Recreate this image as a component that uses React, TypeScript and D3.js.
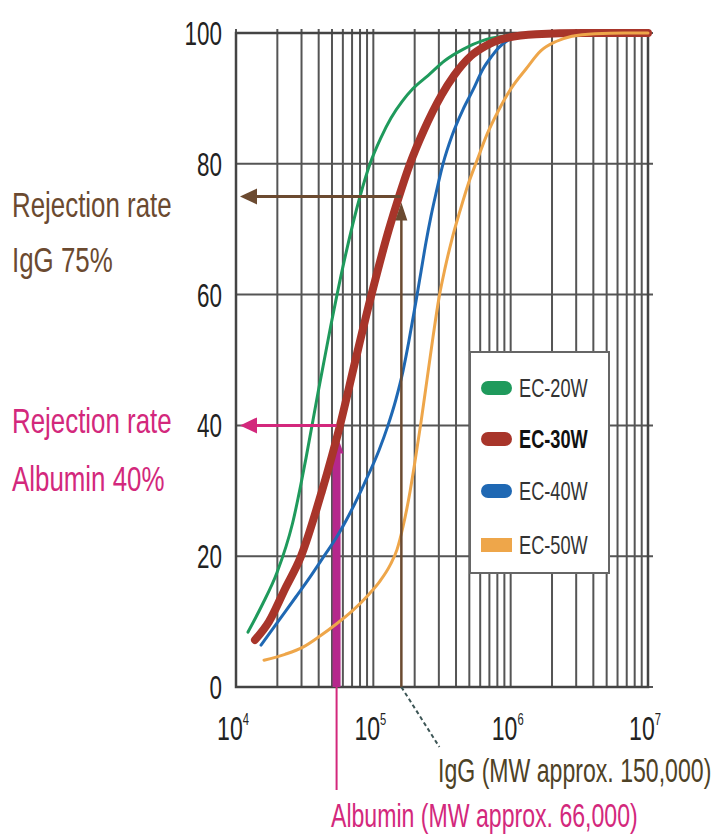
import React from "react";
import * as d3 from "d3";

// ---- data (molecular weight, rejection rate %) ----
const seriesNames = ["EC-20W", "EC-30W", "EC-40W", "EC-50W"];

const ec20W: [number, number][] = [
  [12230, 8.4], [15460, 12.5], [19890, 17.5], [25790, 25], [32340, 35], [39550, 45],
  [48760, 55], [61150, 65], [79970, 75], [94570, 80], [113700, 84], [134500, 87],
  [161700, 89.5], [194500, 91.5], [250100, 93.5], [332500, 95.8], [449600, 97.5],
  [618400, 98.8], [879400, 99.5], [1383000, 99.8], [2941000, 100], [10000000, 100],
];
const ec30W: [number, number][] = [
  [13750, 7.2], [17390, 10], [22740, 15], [29740, 20], [42290, 30], [57180, 40],
  [74160, 50], [96970, 60], [130000, 70], [153800, 75], [184900, 80], [231900, 85],
  [313600, 90.5], [386700, 93.5], [514200, 96.5], [655800, 98], [836300, 99],
  [1529000, 99.8], [3362000, 100], [10000000, 100],
];
const ec40W: [number, number][] = [
  [15210, 6.4], [20220, 10], [27350, 13.8], [34580, 16.8], [43730, 20], [54380, 23],
  [66510, 26.3], [85520, 31], [110000, 36.2], [127900, 40], [146200, 44], [164400, 48.3],
  [181900, 53], [204500, 59], [222400, 63.5], [241800, 68], [263000, 72], [286000, 75.5],
  [321600, 80], [373900, 84.3], [449600, 88.3], [531800, 91.3], [628800, 94.5],
  [731300, 96.5], [822300, 97.8], [956300, 98.9], [1094000, 99.5], [1635000, 99.9],
  [3198000, 100], [10000000, 100],
];
const ec50W: [number, number][] = [
  [15990, 4.1], [22740, 5], [30750, 6.1], [40890, 7.8], [53480, 9.6], [69930, 11.6],
  [92990, 14.2], [111800, 16.2], [132200, 18.6], [148700, 21], [164400, 24.5],
  [181900, 29], [201100, 34.5], [222400, 40.5], [245900, 47], [271900, 53.5],
  [300700, 59.5], [332500, 64], [373900, 68.5], [427600, 72.8], [489100, 76.8],
  [568500, 80.5], [672400, 84.5], [808700, 88], [1006000, 91.5], [1293000, 94.5],
  [1663000, 97.3], [2139000, 98.7], [2797000, 99.5], [4113000, 99.9], [6799000, 100],
  [10000000, 100],
];
const seriesData = [ec20W, ec30W, ec40W, ec50W];

const yTicks = [0, 20, 40, 60, 80, 100];
const xTickExponents = [4, 5, 6, 7];

const iggMW = 160000;
const iggRejection = 75;
const albuminMW = 54000;
const albuminRejection = 40;

// ---- styles ----
const seriesColors = ["#1f9a5c", "#a8352a", "#1f68b3", "#eea64a"];
const seriesWidths = [3, 8, 3, 3];
const drawOrder = [0, 2, 1, 3];
const GRID = "#555";
const BROWN = "#6b4a30";
const MAGENTA = "#d3287c";
const MAGENTA_BAR = "#b5288c";
const FONT = "'Liberation Sans', Arial, Helvetica, sans-serif";

const PL = 236, PR = 648, PT = 33, PB = 687;

function CText(props: {
  x: number; y: number; size: number; sx?: number; fill?: string;
  anchor?: "start" | "middle" | "end"; weight?: string; children: React.ReactNode;
}) {
  const { x, y, size, sx = 0.78, fill = "#222", anchor = "start", weight = "normal", children } = props;
  return (
    <text
      transform={`translate(${x},${y}) scale(${sx},1)`}
      fontSize={size}
      fill={fill}
      textAnchor={anchor}
      fontWeight={weight}
      fontFamily={FONT}
    >
      {children}
    </text>
  );
}

export default function App() {
  const x = d3.scaleLog().domain([1e4, 1e7]).range([PL, PR]);
  const y = d3.scaleLinear().domain([0, 100]).range([PB, PT]);
  const line = d3
    .line<[number, number]>()
    .x((d) => x(d[0]))
    .y((d) => y(d[1]))
    .curve(d3.curveMonotoneX);

  const xGrid = x.ticks();

  const igX = x(iggMW);
  const igY = y(iggRejection);
  const alX = x(albuminMW);
  const alY = y(albuminRejection);

  const arrowLeft = (yy: number, color: string) => (
    <path d={`M${PL + 4},${yy} L${PL + 21},${yy - 8} L${PL + 21},${yy + 8} Z`} fill={color} />
  );

  const legendRows = [388, 439, 491, 545];

  return (
    <svg
      width={716}
      height={835}
      style={{ position: "absolute", left: 0, top: 0, background: "#fff" }}
    >
      <rect x={0} y={0} width={716} height={835} fill="#fff" />
      {/* grid */}
      {xGrid.map((t, i) => (
        <line key={"vx" + i} x1={x(t)} x2={x(t)} y1={PT - 4} y2={PB} stroke={GRID} strokeWidth={2} />
      ))}
      {yTicks.map((t) => (
        <line key={"hy" + t} x1={PL} x2={PR + 5} y1={y(t)} y2={y(t)} stroke={GRID} strokeWidth={2} />
      ))}
      <rect x={PL} y={PT} width={PR - PL} height={PB - PT} fill="none" stroke="#444" strokeWidth={2.5} />

      {/* y tick labels */}
      {yTicks.map((t) => (
        <CText key={"yl" + t} x={222} y={y(t) + 12} size={33} sx={0.68} anchor="end">
          {String(t)}
        </CText>
      ))}
      {/* x tick labels */}
      {xTickExponents.map((e) => (
        <CText key={"xl" + e} x={x(Math.pow(10, e)) - 3} y={740} size={33} sx={0.7} anchor="middle">
          10
          <tspan fontSize={16} dy={-15}>{String(e)}</tspan>
        </CText>
      ))}

      {/* albumin marker (behind curves) */}
      <line x1={alX} x2={alX} y1={alY + 22} y2={PB} stroke={MAGENTA_BAR} strokeWidth={8} />
      <path d={`M${alX},${alY + 8} L${alX - 7},${alY + 28} L${alX + 7},${alY + 28} Z`} fill={MAGENTA_BAR} />
      <line x1={alX} x2={alX} y1={PB} y2={790} stroke={MAGENTA} strokeWidth={2} />

      {/* curves */}
      {drawOrder.map((i) => (
        <path
          key={seriesNames[i]}
          d={line(seriesData[i]) || ""}
          fill="none"
          stroke={seriesColors[i]}
          strokeWidth={seriesWidths[i]}
          strokeLinecap="round"
          strokeLinejoin="round"
        />
      ))}

      {/* IgG marker */}
      <line x1={igX} x2={igX} y1={igY + 12} y2={PB} stroke={BROWN} strokeWidth={2.5} />
      <path d={`M${igX},${igY + 6} L${igX - 6},${igY + 24} L${igX + 6},${igY + 24} Z`} fill={BROWN} />
      <line x1={igX} x2={PL + 18} y1={igY} y2={igY} stroke={BROWN} strokeWidth={3} />
      {arrowLeft(igY, BROWN)}
      <line x1={igX} x2={igX + 38} y1={PB} y2={PB + 60} stroke="#3d5656" strokeWidth={2} strokeDasharray="4,3" />

      {/* albumin arrow */}
      <line x1={alX} x2={PL + 18} y1={alY} y2={alY} stroke={MAGENTA} strokeWidth={3} />
      {arrowLeft(alY, MAGENTA)}

      {/* legend */}
      <rect x={470} y={352} width={139} height={221} fill="#fff" stroke="#666" strokeWidth={2} />
      {seriesNames.map((n, i) => (
        <g key={"lg" + n}>
          <rect
            x={481}
            y={legendRows[i] - 7}
            width={31}
            height={14}
            rx={i === 3 ? 0 : 7}
            fill={seriesColors[i]}
          />
          <CText x={519} y={legendRows[i] + 9} size={26} sx={0.7} fill={i === 1 ? "#111" : "#333"} weight={i === 1 ? "bold" : "normal"}>
            {n}
          </CText>
        </g>
      ))}

      {/* annotations */}
      <CText x={12} y={217} size={35} sx={0.74} fill={BROWN}>Rejection rate</CText>
      <CText x={12} y={272} size={35} sx={0.74} fill={BROWN}>IgG 75%</CText>
      <CText x={12} y={433} size={35} sx={0.74} fill={MAGENTA}>Rejection rate</CText>
      <CText x={12} y={491} size={35} sx={0.74} fill={MAGENTA}>Albumin 40%</CText>

      <CText x={438} y={782} size={33} sx={0.7} fill="#4e4226">IgG (MW approx. 150,000)</CText>
      <CText x={331} y={827} size={33} sx={0.7} fill={MAGENTA}>Albumin (MW approx. 66,000)</CText>
    </svg>
  );
}
